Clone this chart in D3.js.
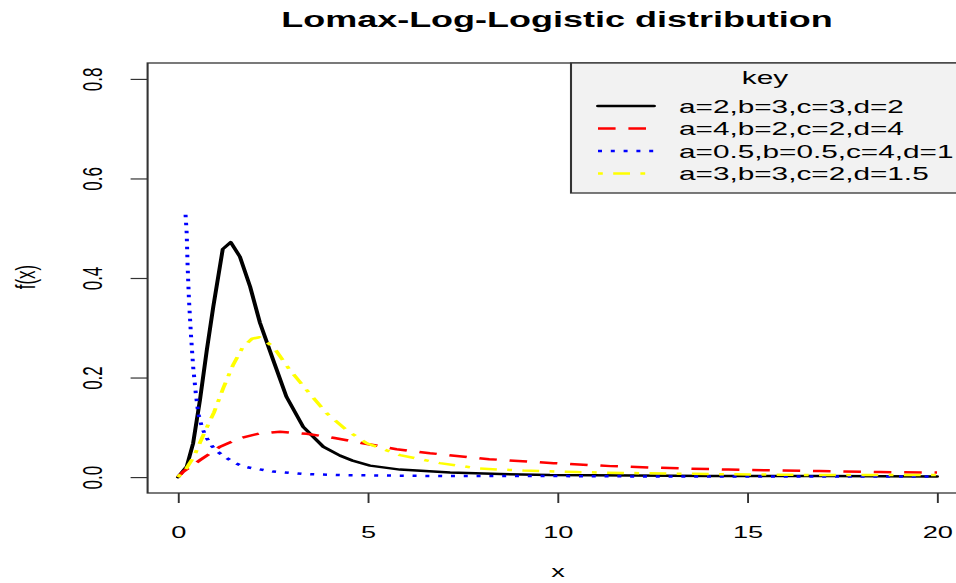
<!DOCTYPE html>
<html><head><meta charset="utf-8">
<script src="https://cdn.jsdelivr.net/npm/d3@7"></script>
<style>body{margin:0;background:#fff}svg{display:block;font-family:"Liberation Sans",Arial,Helvetica,sans-serif}</style>
</head><body><svg id="c" width="956" height="583"></svg>
<script>
// ---- data ----
const xTicks = [0, 5, 10, 15, 20];
const yTicks = [0.0, 0.2, 0.4, 0.6, 0.8];
const yTickLabels = ["0.0", "0.2", "0.4", "0.6", "0.8"];
const legendLabels = ["a=2,b=3,c=3,d=2", "a=4,b=2,c=2,d=4", "a=0.5,b=0.5,c=4,d=1", "a=3,b=3,c=2,d=1.5"];

const xBlack = [0, 0.23, 0.40, 0.58, 0.76, 0.93, 1.18, 1.39, 1.63, 1.90, 2.16, 2.51, 2.86, 3.30, 3.83, 4.27, 4.60, 5.06, 5.85, 7.17, 8.5, 9.8, 12, 14, 17, 20];
const yBlack = [0, 0.021, 0.068, 0.155, 0.255, 0.342, 0.458, 0.472, 0.443, 0.383, 0.310, 0.235, 0.161, 0.101, 0.061, 0.043, 0.033, 0.023, 0.015, 0.009, 0.006, 0.004, 0.003, 0.002, 0.002, 0.001];

const xRed = [0, 0.14, 0.58, 1.11, 1.63, 2.16, 2.69, 3.39, 4.09, 4.87, 5.76, 6.64, 8.2, 9.9, 11.4, 12.96, 14.5, 16.9, 18.5, 20];
const yRed = [0, 0.011, 0.034, 0.061, 0.078, 0.088, 0.091, 0.087, 0.079, 0.068, 0.056, 0.048, 0.036, 0.028, 0.022, 0.018, 0.015, 0.012, 0.010, 0.009];

const xBlue = [0.2, 0.23, 0.255, 0.29, 0.34, 0.40, 0.47, 0.535, 0.64, 0.76, 0.9, 1.06, 1.41, 1.72, 2.51, 3.39, 4.27, 5.5, 7, 10, 13, 16, 20];
const yBlue = [0.527, 0.49, 0.423, 0.356, 0.289, 0.222, 0.168, 0.128, 0.098, 0.078, 0.062, 0.050, 0.032, 0.021, 0.011, 0.006, 0.004, 0.003, 0.002, 0.002, 0.001, 0.001, 0.001];

const xYellow = [0, 0.2, 0.42, 0.7, 0.95, 1.2, 1.45, 1.7, 1.95, 2.15, 2.51, 2.95, 3.39, 3.92, 4.45, 4.97, 5.85, 6.9, 7.96, 9.1, 10.5, 12, 14, 17, 20];
const yYellow = [0, 0.015, 0.041, 0.090, 0.130, 0.180, 0.225, 0.260, 0.278, 0.281, 0.262, 0.215, 0.175, 0.128, 0.094, 0.068, 0.044, 0.028, 0.017, 0.013, 0.010, 0.008, 0.006, 0.004, 0.004];

// ---- drawing ----
const W = 956, H = 583, SX = 1.6;           // reference is horizontally stretched
const svg = d3.select("#c");
const g = svg.append("g").attr("transform", `scale(${SX},1)`);

const x = d3.scaleLinear().domain([-0.8, 20.8]).range([147.6 / SX, 967.4 / SX]);
const y = d3.scaleLinear().domain([-0.032, 0.832]).range([493, 63]);
const [pl, pr] = x.range(), [pb, pt] = y.range();
const axisCol = "#333";

// title
g.append("text").attr("x", 557 / SX).attr("y", 27).attr("text-anchor", "middle")
  .attr("font-size", 22.5).attr("font-weight", "bold").text("Lomax-Log-Logistic distribution");

// clip
svg.append("defs").append("clipPath").attr("id", "clip")
  .append("rect").attr("x", pl).attr("y", pt).attr("width", pr - pl).attr("height", pb - pt);

const series = [
  {xs: xBlack, ys: yBlack, color: "#000000", dash: null},
  {xs: xRed, ys: yRed, color: "#ff0000", dash: "11,8"},
  {xs: xBlue, ys: yBlue, color: "#0000ff", dash: "2.5,5.5"},
  {xs: xYellow, ys: yYellow, color: "#ffff00", dash: "3,6.5,10.5,6.5"}
];
const line = d3.line().x(d => x(d[0])).y(d => y(d[1]));
const curves = g.append("g").attr("clip-path", "url(#clip)");
series.forEach(s => {
  curves.append("path").datum(s.xs.map((v, i) => [v, s.ys[i]]))
    .attr("d", line).attr("fill", "none").attr("stroke", s.color)
    .attr("stroke-width", 2.5).attr("stroke-linejoin", "round")
    .attr("stroke-linecap", s.dash ? "butt" : "round")
    .attr("stroke-dasharray", s.dash);
});

// axes
const xAxis = d3.axisBottom(x).tickValues(xTicks).tickSize(10).tickSizeOuter(0).tickPadding(24).tickFormat(d => d);
const gx = g.append("g").attr("transform", `translate(0,${pb})`).call(xAxis);
gx.select(".domain").remove();
gx.selectAll(".tick line").attr("stroke", axisCol).attr("stroke-width", 1.2);
gx.selectAll(".tick text").attr("font-size", 17).attr("fill", "#000").attr("font-family", null).attr("dy", null).attr("y", 45);

const yAxis = d3.axisLeft(y).tickValues(yTicks).tickSize(17 / SX).tickSizeOuter(0).tickFormat((d, i) => yTickLabels[i]);
const gy = g.append("g").attr("transform", `translate(${pl},0)`).call(yAxis);
gy.select(".domain").remove();
gy.selectAll(".tick line").attr("stroke", axisCol).attr("stroke-width", 1.2);
gy.selectAll(".tick text").attr("font-size", 17).attr("fill", "#000").attr("font-family", null)
  .attr("x", null).attr("dy", "0.35em").attr("text-anchor", "middle")
  .attr("transform", `translate(${92 / SX - pl},0) rotate(-90)`);

// box
g.append("rect").attr("x", pl).attr("y", pt).attr("width", pr - pl).attr("height", pb - pt)
  .attr("fill", "none").attr("stroke", axisCol).attr("stroke-width", 1.3);

// axis titles
g.append("text").attr("x", 558 / SX).attr("y", 577).attr("text-anchor", "middle").attr("font-size", 17).text("x");
g.append("text").attr("transform", `translate(${25 / SX},277) rotate(-90)`).attr("dy", "0.35em")
  .attr("text-anchor", "middle").attr("font-size", 17).text("f(x)");

// legend
const lg = g.append("g");
lg.append("rect").attr("x", 571 / SX).attr("y", pt).attr("width", pr - 571 / SX).attr("height", 193 - pt)
  .attr("fill", "#f2f2f2").attr("stroke", axisCol).attr("stroke-width", 1.3);
lg.append("text").attr("x", 765 / SX).attr("y", 84).attr("text-anchor", "middle").attr("font-size", 18.6).text("key");
const rowY = [106, 128.5, 151, 173.5];
series.forEach((s, i) => {
  lg.append("line").attr("x1", 598 / SX).attr("x2", 654 / SX).attr("y1", rowY[i]).attr("y2", rowY[i])
    .attr("stroke", s.color).attr("stroke-width", 2.5).attr("stroke-dasharray", s.dash)
    .attr("stroke-linecap", s.dash ? "butt" : "round");
  lg.append("text").attr("x", 679 / SX).attr("y", rowY[i] + 7).attr("font-size", 18.6).text(legendLabels[i]);
});
</script></body></html>
